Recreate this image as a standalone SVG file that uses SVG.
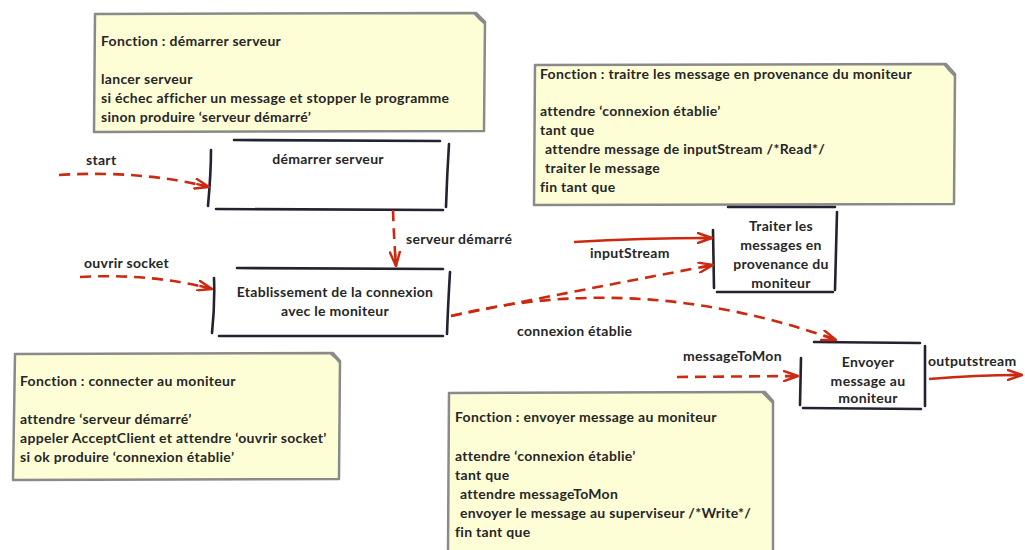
<svg xmlns="http://www.w3.org/2000/svg" width="1025" height="550" viewBox="0 0 1025 550">
  <style>
    .note { fill: #fefed6; stroke: #8a8a8a; stroke-width: 2.5; stroke-linejoin: round; }
    .fold { fill: none; stroke: #8a8a8a; stroke-width: 2; }
    .edge { fill: none; stroke: #222230; stroke-width: 2.6; stroke-linecap: round; }
    .t { font-family: Lato, "Open Sans", sans-serif; font-weight: bold; font-size: 14px; letter-spacing: 0.3px; fill: #262626; }
    .c { text-anchor: middle; }
    .dash { fill: none; stroke: #cc2a10; stroke-width: 2.6; stroke-dasharray: 11 7; }
    .solid { fill: none; stroke: #cc2a10; stroke-width: 2.6; }
  </style>
  <defs>
    <marker id="head" viewBox="0 0 16 12" refX="15" refY="6" markerWidth="16" markerHeight="12" markerUnits="userSpaceOnUse" orient="auto">
      <path d="M1,1 L15,6 L1,11 M15,6 L3,6" fill="none" stroke="#cc2a10" stroke-width="2.4" stroke-linecap="round" stroke-linejoin="round"/>
    </marker>
  </defs>
  <rect width="1025" height="550" fill="#ffffff"/>

  <!-- sticky notes -->
  <g id="note-demarrer">
    <path class="note" d="M95,14 L476,13 L485,22 L484,131 L94,132 Z"/>
    <path class="fold" d="M474,13 Q480,20 485,24"/>
    <text class="t" x="101" y="46">Fonction : démarrer serveur</text>
    <text class="t" x="101" y="84">lancer serveur</text>
    <text class="t" x="101" y="103">si échec afficher un message et stopper le programme</text>
    <text class="t" x="101" y="122">sinon produire ‘serveur démarré’</text>
  </g>

  <g id="note-traiter">
    <path class="note" d="M535,65 L946,64 L955,74 L954,204 L534,205 Z"/>
    <path class="fold" d="M944,64 Q950,72 955,76"/>
    <text class="t" x="540" y="79">Fonction : traitre les message en provenance du moniteur</text>
    <text class="t" x="540" y="116">attendre ‘connexion établie’</text>
    <text class="t" x="540" y="135">tant que</text>
    <text class="t" x="545" y="154">attendre message de inputStream /*Read*/</text>
    <text class="t" x="545" y="173">traiter le message</text>
    <text class="t" x="540" y="192">fin tant que</text>
  </g>

  <g id="note-connecter">
    <path class="note" d="M15,354 L333,353 L340,361 L339,479 L13,480 Z"/>
    <path class="fold" d="M330,353 Q336,358 340,363"/>
    <text class="t" x="20" y="386">Fonction : connecter au moniteur</text>
    <text class="t" x="20" y="424">attendre ‘serveur démarré’</text>
    <text class="t" x="20" y="443">appeler AcceptClient et attendre ‘ouvrir socket’</text>
    <text class="t" x="20" y="462">si ok produire ‘connexion établie’</text>
  </g>

  <g id="note-envoyer">
    <path class="note" d="M449,393 L765,392 L773,401 L773,552 L448,552 Z"/>
    <path class="fold" d="M762,392 Q768,398 773,403"/>
    <text class="t" x="455" y="422">Fonction : envoyer message au moniteur</text>
    <text class="t" x="455" y="461">attendre ‘connexion établie’</text>
    <text class="t" x="455" y="480">tant que</text>
    <text class="t" x="460" y="499">attendre messageToMon</text>
    <text class="t" x="460" y="518">envoyer le message au superviseur /*Write*/</text>
    <text class="t" x="455" y="537">fin tant que</text>
  </g>

  <!-- process nodes -->
  <g id="node-demarrer">
    <path class="edge" d="M234,140 L440,141 M449,144 Q447,175 446,207 M443,210 L216,209 M208,206 Q211,173 211,150"/>
    <text class="t c" x="328" y="164">démarrer serveur</text>
  </g>

  <g id="node-connexion">
    <path class="edge" d="M237,268 L443,269 M450,272 Q448,305 447,334 M443,336 L219,336 M212,333 Q215,305 214,278"/>
    <text class="t c" x="335" y="297">Etablissement de la connexion</text>
    <text class="t c" x="335" y="316">avec le moniteur</text>
  </g>

  <g id="node-traiter">
    <path class="edge" d="M728,207 L835,207 M837,212 L835,290 M833,292 L717,292 M714,288 L713,230"/>
    <text class="t c" x="781" y="231">Traiter les</text>
    <text class="t c" x="781" y="250">messages en</text>
    <text class="t c" x="781" y="269">provenance du</text>
    <text class="t c" x="781" y="288">moniteur</text>
  </g>

  <g id="node-envoyer">
    <path class="edge" d="M814,342 L920,343 M925,346 L925,406 M921,409 L803,408 M800,405 L801,358"/>
    <text class="t c" x="868" y="367">Envoyer</text>
    <text class="t c" x="868" y="386">message au</text>
    <text class="t c" x="868" y="403">moniteur</text>
  </g>

  <!-- connectors -->
  <g id="connectors">
    <path class="dash" marker-end="url(#head)" d="M59,175 Q140,170 209,187"/>
    <text class="t" x="86" y="165">start</text>

    <path class="dash" marker-end="url(#head)" d="M393,210 Q394,240 396,266"/>
    <text class="t" x="406" y="244">serveur démarré</text>

    <path class="dash" marker-end="url(#head)" d="M80,277 Q150,273 212,289"/>
    <text class="t" x="84" y="268">ouvrir socket</text>

    <path class="solid" marker-end="url(#head)" d="M574,242 Q640,238 712,238"/>
    <text class="t" x="590" y="258">inputStream</text>

    <path class="dash" marker-end="url(#head)" d="M451,316 Q580,290 713,265"/>
    <path class="dash" marker-end="url(#head)" d="M451,316 Q640,270 836,340"/>
    <text class="t" x="517" y="336">connexion établie</text>

    <path class="dash" marker-end="url(#head)" d="M677,377 L798,376"/>
    <text class="t" x="683" y="361">messageToMon</text>

    <path class="solid" marker-end="url(#head)" d="M929,379 Q980,375 1022,375"/>
    <text class="t" x="928" y="366">outputstream</text>
  </g>
</svg>
